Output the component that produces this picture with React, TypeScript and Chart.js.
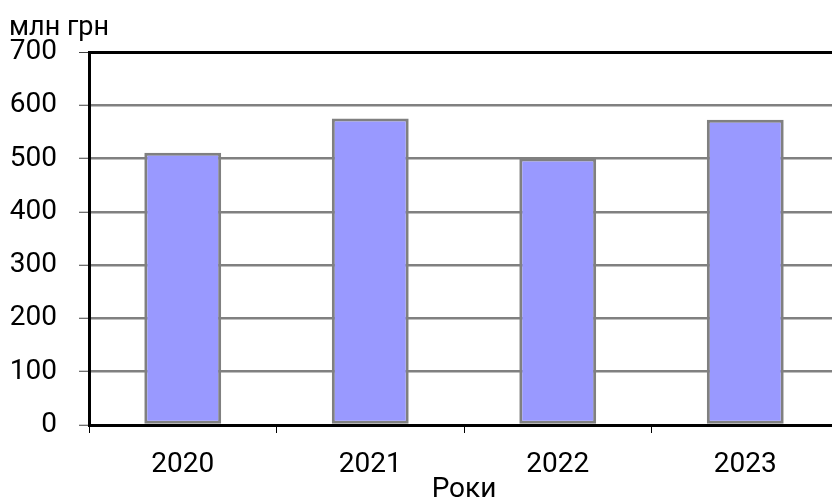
import React, { useEffect, useRef } from "react";
import { Chart, registerables } from "chart.js";

Chart.register(...registerables);

const categories = ["2020", "2021", "2022", "2023"];
const values = [511, 575, 500, 573];
const yTicks = [0, 100, 200, 300, 400, 500, 600, 700];
const yUnit = "млн грн";
const xTitle = "Роки";

const FONT = "Roboto, 'DejaVu Sans', sans-serif";
const FS = 28;

const unitPlugin = {
  id: "unitLabel",
  afterDraw(chart: any) {
    const ctx = chart.ctx;
    ctx.save();
    ctx.font = `${FS - 1}px ${FONT}`;
    ctx.fillStyle = "#000";
    ctx.textAlign = "left";
    ctx.textBaseline = "alphabetic";
    ctx.fillText(yUnit, 9, chart.chartArea.top - 17);
    ctx.restore();
  },
};

export default function App() {
  const ref = useRef<HTMLCanvasElement | null>(null);
  useEffect(() => {
    if (!ref.current) return;
    document.body.style.margin = "0";
    document.body.style.overflow = "hidden";
    const chart = new Chart(ref.current, {
      type: "bar",
      data: {
        labels: categories,
        datasets: [
          {
            data: values,
            backgroundColor: "#9999FF",
            borderColor: "#808080",
            borderWidth: 3,
            borderSkipped: false,
            barPercentage: 0.41,
            categoryPercentage: 1,
          },
        ],
      },
      options: {
        responsive: false,
        animation: false,
        devicePixelRatio: 1,
        layout: { padding: { top: 52, left: 0, right: 3, bottom: 0 } },
        plugins: { legend: { display: false }, tooltip: { enabled: false } },
        scales: {
          x: {
            offset: true,
            grid: {
              display: true,
              drawOnChartArea: false,
              drawTicks: true,
              tickLength: 8,
              tickColor: "#000",
              tickWidth: 1,
            },
            border: { display: true, color: "#000", width: 3 },
            ticks: {
              color: "#000",
              font: { family: FONT, size: FS },
              padding: 15,
              maxRotation: 0,
            },
            title: {
              display: true,
              text: xTitle,
              color: "#000",
              font: { family: FONT, size: FS },
              padding: { top: 0, bottom: 3 },
            },
            afterFit: (s: any) => {
              s.height = 85;
            },
          },
          y: {
            min: 0,
            max: 700,
            afterBuildTicks: (s: any) => {
              s.ticks = yTicks.map((v) => ({ value: v }));
            },
            grid: {
              color: (c: any) => (c.tick && c.tick.value === 700 ? "#000" : "#808080"),
              lineWidth: (c: any) => (c.tick && c.tick.value === 700 ? 3 : 2.5),
              drawTicks: true,
              tickLength: 10,
              tickColor: "#404040",
              tickWidth: 1,
            },
            border: { display: true, color: "#000", width: 3 },
            ticks: {
              color: "#000",
              font: { family: FONT, size: FS },
              padding: 22,
            },
            afterFit: (s: any) => {
              s.width = 89;
            },
          },
        },
      },
      plugins: [unitPlugin],
    });
    return () => chart.destroy();
  }, []);
  return (
    <div
      style={{
        position: "absolute",
        left: 0,
        top: 0,
        width: 832,
        height: 502,
        overflow: "hidden",
        background: "#fff",
      }}
    >
      <canvas ref={ref} width={842} height={510} style={{ display: "block" }} />
    </div>
  );
}
